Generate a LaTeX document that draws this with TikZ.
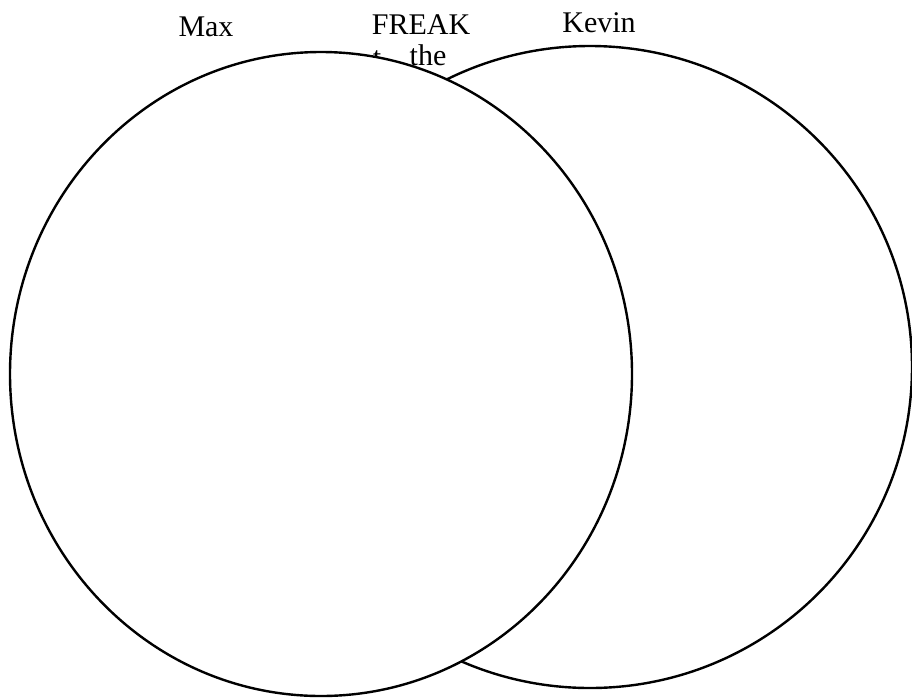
\documentclass[tikz,border=0pt]{standalone}
\usepackage{fontspec}
\setmainfont{Liberation Serif}
\begin{document}
\begin{tikzpicture}[x=1pt,y=-1pt,
  ring/.style={draw=black,line width=2.4pt,fill=white},
  lbl/.style={font=\fontsize{30}{32}\selectfont,inner sep=0pt,anchor=base}]
\useasboundingbox[fill=white] (0,0) rectangle (912,697);
\draw[ring] (590,367) ellipse [x radius=322, y radius=321];
\node[lbl] (t) at (377,67) {t};
\draw[ring] (321,374) ellipse [x radius=311, y radius=322];
\node[lbl] (max) at (206,36) {Max};
\node[lbl] (freak) at (421,34) {FREAK};
\node[lbl] (kevin) at (599,32) {Kevin};
\node[lbl] (the) at (428,65) {the};
\end{tikzpicture}
\end{document}
